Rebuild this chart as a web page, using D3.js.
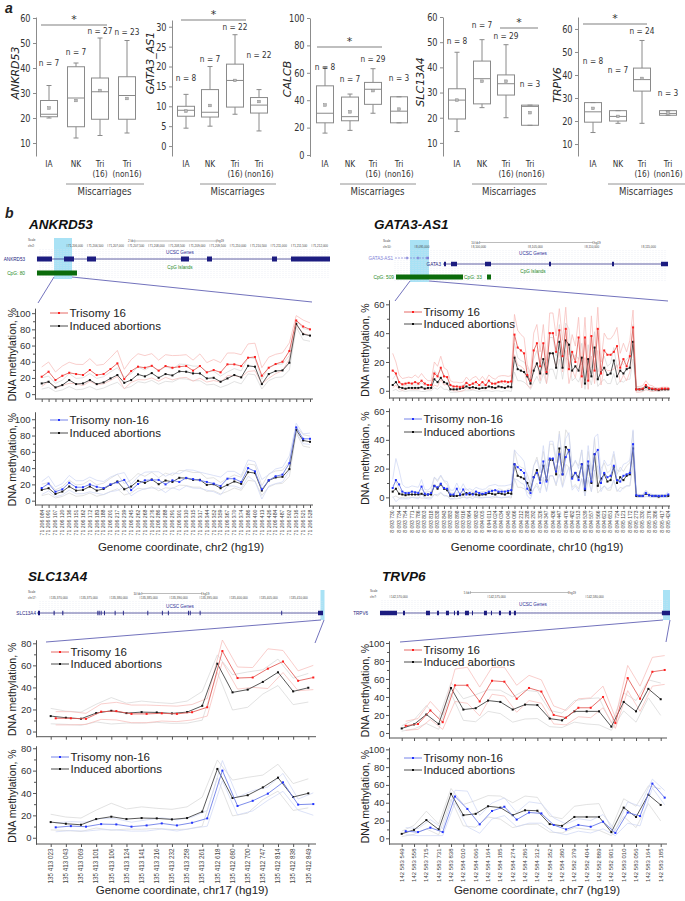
<!DOCTYPE html>
<html><head><meta charset="utf-8">
<script src="https://cdn.jsdelivr.net/npm/d3@7"></script>
<style>body{margin:0;background:#fff}svg{display:block}</style>
</head><body>
<svg id="c" width="685" height="901"></svg>
<script>
// ---------------- PANEL A DATA ----------------
const groupNames = ["IA", "NK", "Tri", "Tri"];
const groupSub = ["", "", "(16)", "(non16)"];
// [whiskerLow, q1, median, q3, whiskerHigh, mean]
const boxANKRD53 = [[20,20.5,21.5,27,33,24],[12,16.5,28,40.5,42,27],[13,19.5,30.5,36,52,31],[14,19.5,29,36.5,51,27.8]];
const boxGATA3 = [[4.5,7.5,9,10,13,8.8],[5,7.3,8.5,14.2,20,10.2],[8,9.8,16.5,20.6,28,16.5],[3.8,8.3,10.3,12.2,14.2,11.2]];
const boxCALCB = [[16,23.5,30.5,50.5,64,36.5],[18,25,28,42.3,44.5,31.5],[30.5,37,48,53,63,47],[23.5,23.5,32,42.5,42.5,33.5]];
const boxSLC = [[14.5,19.5,27,31.5,46,27],[24,25.5,35.5,42.5,51,34.5],[20,29,33.5,37,49,34.5],[17,17,24.5,25,25,22]];
const boxTRPV = [[15,19.5,24,28,28,25.5],[19,20,22,24.5,24.5,22],[19,33,38,43,55,38.5],[22.5,22.5,23.3,24.5,24.5,23.5]];
const nANKRD53 = [7,7,27,23];
const nGATA3 = [8,7,22,22];
const nCALCB = [8,7,29,3];
const nSLC = [8,7,29,3];
const nTRPV = [8,7,24,3];
const ticksANKRD53 = [10,20,30,40,50,60];
const ticksGATA3 = [0,5,10,15,20,25,30];
const ticksCALCB = [0,20,40,60,80,100];
const ticksSLC = [10,20,30,40,50,60];
const ticksTRPV = [10,20,30,40,50,60];

// ---------------- PANEL B DATA ----------------
const ANK_labels = ["71 206 084","71 206 091","71 206 107","71 206 120","71 206 136","71 206 151","71 206 162","71 206 172","71 206 183","71 206 188","71 206 201","71 206 217","71 206 239","71 206 245","71 206 262","71 206 268","71 206 276","71 206 286","71 206 288","71 206 291","71 206 301","71 206 310","71 206 315","71 206 317","71 206 344","71 206 352","71 206 359","71 206 367","71 206 370","71 206 374","71 206 386","71 206 400","71 206 413","71 206 426","71 206 484","71 206 487","71 206 502","71 206 516","71 206 521","71 206 528"];
const ANK_IA = [13.2,15.3,8.3,11.2,17.4,12.4,13.2,17.4,12.4,14.5,19.4,23.6,14,17.4,24.4,21.9,26,20.2,24.8,23.1,28.1,27.7,25.6,25.6,19.4,20.2,15.3,19.4,23.6,20.7,35,33.9,12.4,24.8,28.5,29.3,38.8,86.8,74,72.3];
const ANK_T16 = [21.5,27.7,17.4,22.7,26.4,24.8,23.6,29.8,23.6,24.8,31,38,18.6,28.5,33.9,32.6,35,29,34.7,32.6,33.9,34.7,29,34.7,26.9,29.8,26.9,36.8,36.8,34.7,45,45.9,22.7,32.6,37.2,40,53.3,91,83.5,80];
const ANK_N16 = [15.5,21,11,14,22,16.5,16.5,20,17,15.5,20,22.5,25.5,13,20.5,25,25.5,25.5,20,25,23,28,26.5,25,23,21,18,27,27,23,40,36,14,25,30,32,46,90,76,76];
const ANK_IA_SD = [7,7,5,6,8,7,7,8,7,7,8,9,7,8,9,8,9,8,9,8,9,9,9,9,8,8,7,8,8,8,10,10,6,8,8,8,9,4,7,7];
const ANK_T16_SD = [12,12,10,12,13,12,13,14,12,12,14,16,12,14,16,15,15,13,14,15,14,14,13,15,12,13,12,14,14,14,17,17,10,13,12,11,10,6,8,8];
const ANK_N16_SD = [8,9,6,7,9,8,8,9,8,8,9,10,9,7,9,10,10,10,10,9,10,10,11,10,10,10,11,9,9,8,10,12,12,7,9,9,9,5,6,7];

const GATA_labels = ["8 093 730","8 093 734","8 093 754","8 093 771","8 093 786","8 093 803","8 093 818","8 093 838","8 093 843","8 093 883","8 093 898","8 093 916","8 093 964","8 093 983","8 094 005","8 094 011","8 094 024","8 094 034","8 094 045","8 094 066","8 094 212","8 094 288","8 094 292","8 094 326","8 094 347","8 094 436","8 094 447","8 094 476","8 094 482","8 094 513","8 094 539","8 094 557","8 094 566","8 094 621","8 094 651","8 094 724","8 095 121","8 095 172","8 095 273","8 095 330","8 095 376","8 095 386","8 095 417","8 095 424"];
const GATA_T16 = [14,12,6,4.5,5,5.5,5,6,5,7, 5,4,4,12,10,16,10,9.5,4,3, 3,2.5,3,5.5,4,5,6,4,6,4, 7,5,5,6,6.5,6.5,6,6.5,
  39,30,28,26,11,7,28,33,17,33, 13,40,40,27,42,24,43,15,27,20, 37,10,37,7,38,14,43,12,28,25, 25,27,31,16,22,17,24,44,
  1,1,1.5,4,2,1.5,1,1,1.5,1.5,1.5];
const GATA_IA = [4,6,2.5,2,1.5,2,2,2,2,2.5, 1.5,2,2,8,6,9,6,5,1,1, 1,1.5,2,3,2,2.5,2,1.5,2,2, 3,2.5,2,3,2.5,2,3,2.5,
  23,15,14,13,10,5,14,19,12,22, 12,26,26,16,34,16,35,32,14,17, 14,23,5,22,10,30,8,13,16,11, 12,21,10,14,12,15,16,34,
  1,1,1,2.5,1.5,1,1,0.5,1,1,1];
const GATA_N16 = [6.5,12,9,4,3,3,4,3.5,3,7.5, 2.5,2,3,8,7,9.5,6.5,6,2,2, 6,2,5.5,2,3,2,4,3,2.5,3, 4,4.5,5,4,4,4,4.5,5,
  23,21,19,17,6,3,14,17,10,25, 11,27,27,18,30,16,28,33,13,17, 12,23,6,25,11,30,33,10,17,14, 15,22,12,11,15,16,17,37,
  1.5,1,1,3,1.5,1,1,1,1,1,2];
const GATA_T16_SD = [12,8,5,4,4,4,4,5,4,5, 4,3,3,8,7,8,6,5,3,3, 3,3,3,4,3,4,4,3,4,3, 4,4,3,4,4,4,4,4,
  14,12,11,11,7,5,12,13,10,13, 8,14,14,11,15,11,15,10,12,11, 14,8,14,6,14,9,15,8,12,11, 11,12,13,10,11,10,11,12,
  2,2,2,3,2,2,1,1,1,1,1];
const GATA_IA_SD = [4,5,3,2,2,2,2,2,2,3, 2,2,2,6,5,6,5,4,2,2, 2,2,2,3,2,2,2,2,2,2, 3,3,2,3,3,2,3,3,
  10,8,7,7,6,4,8,9,7,10, 7,11,11,8,12,8,12,11,7,8, 8,10,4,10,6,11,5,7,8,6, 7,9,6,7,6,7,8,12,
  1,1,1,2,1,1,1,1,1,1,1];
const GATA_N16_SD = [6,15,10,5,4,4,4,4,4,5, 3,3,4,6,5,6,5,5,3,3, 4,3,4,3,3,3,3,3,3,3, 4,4,4,4,4,4,4,4,
  10,9,9,8,5,4,8,9,7,11, 7,12,12,9,14,9,13,12,8,9, 8,10,5,11,7,12,11,6,9,8, 8,10,7,7,8,8,9,10,
  1,1,1,2,1,1,1,1,1,1,2];

const SLC_labels = ["135 413 023","135 413 043","135 413 069","135 413 101","135 413 106","135 413 124","135 413 141","135 413 216","135 413 232","135 413 258","135 413 261","135 412 618","135 412 680","135 412 700","135 412 747","135 412 814","135 412 838","135 412 849"];
const SLC_IA = [14,12.5,11.6,16.7,18.8,16.7,17.6,17.3,16.4,17.6,23.3,61.5,35.5,38,45,53.7,36.4,39.7];
const SLC_T16 = [12,12,11.5,18,18.5,16,16,16.5,16,17.5,22,73,48.5,49,57,63.5,46,49];
const SLC_N16 = [9.3,10.4,9.9,12.2,11.9,9.9,11,12.8,11,13.4,17.3,60,28.4,33,39.4,49.5,29.6,30.1];
const SLC_IA_SD = [7,6,6,8,12,9,10,9,9,10,13,8,16,16,11,12,12,13];
const SLC_T16_SD = [6,6,5,7,8,8,8,7,7,7,8,10,10,9,18,10,9,11];
const SLC_N16_SD = [4,4,4,5,5,4,5,5,5,5,7,9,8,9,6,8,5,10];

const TRPV_labels = ["142 583 549","142 583 558","142 583 715","142 583 731","142 583 838","142 584 010","142 584 066","142 584 164","142 584 185","142 584 274","142 584 286","142 584 312","142 584 352","142 584 380","142 582 379","142 582 404","142 582 889","142 582 901","142 583 010","142 583 056","142 583 164","142 583 185"];
const TRPV_IA = [5,9.5,20.5,10,50,26,27.5,36,34.5,26,31.5,31,16,14,24,24,24,7,34.5,24,49,37.5];
const TRPV_T16 = [8,10,25,12,53,53,35,58,57,38,50,46,20,17,28,28,40,11,61,38,68,70];
const TRPV_N16 = [8,7,12,7,47,33,15.7,30.7,35.5,21,29,28,15,10,15,13,18.7,6,29,25,61.5,45.7];
const TRPV_IA_SD = [3,5,10,6,6,12,15,12,13,14,16,15,9,8,12,14,15,4,10,12,10,18];
const TRPV_T16_SD = [5,6,10,8,18,20,16,15,16,15,14,13,10,8,10,11,12,6,14,14,16,16];
const TRPV_N16_SD = [4,4,9,4,7,20,10,9,10,8,12,11,8,6,7,7,8,3,12,11,5,8];

// ---------------- GENOME BROWSER DATA (hg19 bp) ----------------
const ANK_coords = [71206000,71206500,71207000,71207500,71208000,71208500,71209000,71209500,71210000,71210500,71211000,71211500,71212000];
const ANK_coordText = ["71,206,000","71,206,500","71,207,000","71,207,500","71,208,000","71,208,500","71,209,000","71,209,500","71,210,000","71,210,500","71,211,000","71,211,500","71,212,000"];
const ANK_exons = [[71205265,71205633],[71205927,71206172],[71206490,71206711],[71208793,71208989],[71209430,71209553],[71211023,71211145],[71211488,71212444]];
const ANK_cpg = [[71205265,71206245]];
const GATA_coords = [8095000,8100000,8105000,8110000,8115000];
const GATA_coordText = ["8,095,000","8,100,000","8,105,000","8,110,000","8,115,000"];
const GATA_AS1_exons = [[8094230,8094360],[8095200,8095330],[8096000,8096235]];
const GATA3_exons = [[8097558,8097734],[8098175,8098704],[8101174,8101703],[8106819,8106995],[8112375,8112552],[8116697,8117315]];
const GATA_cpg = [[8093324,8099234],[8101350,8101703]];
const SLC_coords = [135370000,135375000,135380000,135385000,135390000,135395000,135400000,135405000,135410000];
const SLC_coordText = ["135,370,000","135,375,000","135,380,000","135,385,000","135,390,000","135,395,000","135,400,000","135,405,000","135,410,000"];
const SLC_exons = [[135368000,135368333],[135370600,135370770],[135372050,135372220],[135377900,135378050],[135378120,135378270],[135378450,135378600],[135379000,135379150],[135380780,135380930],[135382150,135382300],[135386230,135386380],[135388650,135388800],[135389650,135389800],[135393000,135393150],[135393300,135393450],[135394950,135395100],[135408550,135408700],[135414676,135415509]];
const TRPV_coords = [142570000,142575000,142580000];
const TRPV_coordText = ["142,570,000","142,575,000","142,580,000"];
const TRPV_exons = [[142569490,142570357],[142570663,142570765],[142571836,142572040],[142572397,142572499],[142572856,142573009],[142573264,142573315],[142573417,142573519],[142573825,142574029],[142574182,142574233],[142574794,142574947],[142575151,142575202],[142575559,142575661],[142576069,142576171],[142576324,142576426],[142583872,142584286]];

// ---------------- DRAWING ----------------
const svg = d3.select("#c");
const FA = "'DejaVu Sans', Verdana, sans-serif";
const FB = "'Liberation Sans', Arial, sans-serif";

function txt(g, x, y, s, o = {}) {
  const t = g.append("text").attr("x", x).attr("y", y).text(s)
    .attr("font-family", o.ff || FB).attr("font-size", o.fs || 10)
    .attr("fill", o.fill || "#222").attr("text-anchor", o.anchor || "start");
  if (o.fw) t.attr("font-weight", o.fw);
  if (o.fst) t.attr("font-style", o.fst);
  if (o.rot) t.attr("transform", `rotate(${o.rot},${x},${y})`);
  else if (o.sx) t.attr("transform", `translate(${x},${y}) scale(${o.sx},1) translate(${-x},${-y})`);
  return t;
}

// ---- Panel a ----
txt(svg, 5, 13, "a", {ff: FB, fs: 14, fw: "bold", fst: "italic"});
const layoutA = [
  {box: boxANKRD53, n: nANKRD53, ticks: ticksANKRD53, name: "ANKRD53", ax: 36, cats: [49,76,100,127], dom: [4.8,60.4], rng: [156,17], nY: [66,55,34,35], sig: [41,107,25], lx: 19, ly: 73},
  {box: boxGATA3, n: nGATA3, ticks: ticksGATA3, name: "GATA3_AS1", ax: 172, cats: [186,210,235,259], dom: [-2.5,31.7], rng: [156,20], nY: [81,62,30,58], sig: [181,246,20], lx: 154, ly: 63},
  {box: boxCALCB, n: nCALCB, ticks: ticksCALCB, name: "CALCB", ax: 310, cats: [325,350,373,399], dom: [-1,100], rng: [156.4,18], nY: [70,82,62,81], sig: [317,382,47], lx: 291, ly: 79},
  {box: boxSLC, n: nSLC, ticks: ticksSLC, name: "SLC13A4", ax: 443, cats: [457,482,506,530], dom: [4.8,60], rng: [156,17], nY: [44,28,39,87], sig: [500,538,28], lx: 424, ly: 82},
  {box: boxTRPV, n: nTRPV, ticks: ticksTRPV, name: "TRPV6", ax: 578, cats: [593,618,642,668], dom: [4.8,65.2], rng: [156,17], nY: [64,73,34,96], sig: [583,647,24], lx: 561, ly: 85}
];
const SXA = 0.78;
layoutA.forEach(L => {
  const g = svg.append("g");
  const y = d3.scaleLinear().domain(L.dom).range(L.rng);
  const ax = g.append("g").attr("transform", `translate(${L.ax},0)`)
    .call(d3.axisLeft(y).tickValues(L.ticks).tickSize(3).tickSizeOuter(0));
  ax.attr("color", "#8c8c8c").attr("font-family", FA).attr("font-size", 10.5);
  ax.selectAll("text").attr("fill", "#333").attr("transform", `scale(${SXA},1)`).attr("x", -7);
  txt(g, L.lx, L.ly, L.name, {ff: FA, fs: 11, fst: "italic", anchor: "middle", rot: -90, fill: "#222"});
  const bw = 17;
  L.box.forEach((b, i) => {
    const cx = L.cats[i];
    const [wl, q1, md, q3, wh, mn] = b;
    const st = "#8a8a8a";
    g.append("line").attr("x1", cx).attr("x2", cx).attr("y1", y(wh)).attr("y2", y(q3)).attr("stroke", st);
    g.append("line").attr("x1", cx).attr("x2", cx).attr("y1", y(q1)).attr("y2", y(wl)).attr("stroke", st);
    g.append("line").attr("x1", cx - 2.5).attr("x2", cx + 2.5).attr("y1", y(wh)).attr("y2", y(wh)).attr("stroke", st);
    g.append("line").attr("x1", cx - 2.5).attr("x2", cx + 2.5).attr("y1", y(wl)).attr("y2", y(wl)).attr("stroke", st);
    g.append("rect").attr("x", cx - bw / 2).attr("width", bw).attr("y", y(q3)).attr("height", Math.max(0.5, y(q1) - y(q3)))
      .attr("fill", "none").attr("stroke", st);
    g.append("line").attr("x1", cx - bw / 2).attr("x2", cx + bw / 2).attr("y1", y(md)).attr("y2", y(md)).attr("stroke", st);
    g.append("rect").attr("x", cx - 1.3).attr("y", y(mn) - 1.3).attr("width", 2.6).attr("height", 2.6)
      .attr("fill", "#bbb").attr("stroke", "#888").attr("stroke-width", 0.5);
    txt(g, cx, L.nY[i], "n = " + L.n[i], {ff: FA, fs: 9.5, anchor: "middle", sx: SXA, fill: "#333"});
    txt(g, cx, 167.5, groupNames[i], {ff: FA, fs: 9.5, anchor: "middle", sx: SXA, fill: "#333"});
    if (groupSub[i]) txt(g, cx, 177.5, groupSub[i], {ff: FA, fs: 9.5, anchor: "middle", sx: SXA, fill: "#333"});
  });
  g.append("line").attr("x1", L.cats[1] - 10).attr("x2", L.cats[3] + 17).attr("y1", 184).attr("y2", 184)
    .attr("stroke", "#777").attr("stroke-width", 0.8);
  txt(g, (L.cats[1] + L.cats[3]) / 2 + 3, 195, "Miscarriages", {ff: FA, fs: 11, anchor: "middle", sx: SXA, fill: "#333"});
  g.append("line").attr("x1", L.sig[0]).attr("x2", L.sig[1]).attr("y1", L.sig[2]).attr("y2", L.sig[2])
    .attr("stroke", "#aaa").attr("stroke-width", 1.3);
  txt(g, (L.sig[0] + L.sig[1]) / 2, L.sig[2] - 2.5, "*", {ff: FA, fs: 11, anchor: "middle", fill: "#333"});
});

// ---- Panel b ----
txt(svg, 5, 218, "b", {ff: FB, fs: 14, fw: "bold", fst: "italic"});
txt(svg, 29, 229, "ANKRD53", {fs: 13.5, fw: "bold", fst: "italic", fill: "#111"});
txt(svg, 374, 229, "GATA3-AS1", {fs: 13.5, fw: "bold", fst: "italic", fill: "#111"});
txt(svg, 28, 581, "SLC13A4", {fs: 13.5, fw: "bold", fst: "italic", fill: "#111"});
txt(svg, 382, 581, "TRVP6", {fs: 13.5, fw: "bold", fst: "italic", fill: "#111"});

function browser(B) {
  const g = svg.append("g");
  const x = d3.scaleLinear().domain(B.dom).range([B.x0, B.x1]);
  g.append("rect").attr("x", B.hlx[0]).attr("width", B.hlx[1] - B.hlx[0]).attr("y", B.y0).attr("height", B.y1 - B.y0)
    .attr("fill", "#a9e2f5");
  g.selectAll("line.guide").data(d3.range(B.x0 + 12, B.x1, 3)).join("line")
    .attr("x1", d => d).attr("x2", d => d).attr("y1", B.coordY + 2).attr("y2", B.y1)
    .attr("stroke", "#dde1ee").attr("stroke-width", 0.5).attr("stroke-dasharray", "1,1");
  txt(g, B.x0, B.scaleY - 1.5, "Scale", {fs: 3, fill: "#444"});
  txt(g, B.x0, B.coordY, B.chr, {fs: 3, fill: "#444"});
  const sb = B.scaleBar;
  g.append("line").attr("x1", x(sb[0])).attr("x2", x(sb[1])).attr("y1", B.scaleY - 1).attr("y2", B.scaleY - 1).attr("stroke", "#555").attr("stroke-width", 0.4);
  [sb[0], sb[1]].forEach(v => g.append("line").attr("x1", x(v)).attr("x2", x(v)).attr("y1", B.scaleY - 2.5).attr("y2", B.scaleY + 0.5).attr("stroke", "#555").attr("stroke-width", 0.4));
  txt(g, x(sb[0]) - 1, B.scaleY, B.scaleText, {fs: 3, fill: "#444", anchor: "end"});
  txt(g, x(sb[1]) + 1, B.scaleY, "hg19", {fs: 3, fill: "#444"});
  B.coords.forEach((c, i) => {
    g.append("line").attr("x1", x(c)).attr("x2", x(c)).attr("y1", B.coordY - 3).attr("y2", B.coordY).attr("stroke", "#555").attr("stroke-width", 0.3);
    txt(g, x(c) + 1, B.coordY, B.coordText[i], {fs: 3, fill: "#444"});
  });
  txt(g, B.ucscX, B.ucscY, "UCSC Genes", {fs: 4.6, fill: "#2c2c96", anchor: "middle"});
  B.genes.forEach(G => {
    g.append("line").attr("x1", x(G.span[0])).attr("x2", x(G.span[1])).attr("y1", G.y).attr("y2", G.y)
      .attr("stroke", G.color).attr("stroke-width", 0.7).attr("stroke-dasharray", G.dash || null);
    g.selectAll(null).data(G.exons).join("rect")
      .attr("x", d => x(d[0])).attr("width", d => Math.max(0.9, x(d[1]) - x(d[0])))
      .attr("y", G.y - G.h / 2).attr("height", G.h).attr("fill", G.color);
    txt(g, G.lx, G.y + 1.6, G.name, {fs: 4.6, fill: G.color, anchor: G.la || "end"});
  });
  if (B.cpg) {
    txt(g, B.ucscX, B.cpgTitleY, "CpG Islands", {fs: 4.6, fill: "#1e8a1e", anchor: "middle"});
    g.selectAll(null).data(B.cpg).join("rect")
      .attr("x", d => x(d[0])).attr("width", d => x(d[1]) - x(d[0]))
      .attr("y", B.cpgY - 2.5).attr("height", 5).attr("fill", "#0b6b0b");
    B.cpgLabels.forEach(l => txt(g, l[0], B.cpgY + 1.7, l[1], {fs: 4.8, fill: "#1e8a1e", anchor: l[2]}));
  }
  B.zoom.forEach(z => g.append("line").attr("x1", z[0]).attr("y1", z[1]).attr("x2", z[2]).attr("y2", z[3])
    .attr("stroke", "#6262b4").attr("stroke-width", 0.9));
}

browser({x0: 28, x1: 330, dom: [71205045, 71212444], y0: 238, y1: 279, scaleY: 242, coordY: 247, chr: "chr2:",
  hlx: [54, 72], scaleBar: [71207660, 71209660], scaleText: "2 kb", coords: ANK_coords, coordText: ANK_coordText,
  ucscX: 180, ucscY: 254,
  genes: [{name: "ANKRD53", span: [71205265, 71212444], exons: ANK_exons, y: 259, h: 5, color: "#1c1c80", lx: 25}],
  cpg: ANK_cpg, cpgTitleY: 268.5, cpgY: 273, cpgLabels: [[25, "CpG: 80", "end"]],
  zoom: [[54, 277, 38, 303], [72, 277, 312, 302]]});

browser({x0: 383, x1: 668, dom: [8092178, 8117315], y0: 240, y1: 282, scaleY: 243.5, coordY: 248, chr: "chr10:",
  hlx: [410, 429], scaleBar: [8100700, 8110700], scaleText: "10 kb", coords: GATA_coords, coordText: GATA_coordText,
  ucscX: 533, ucscY: 255,
  genes: [{name: "GATA3-AS1", span: [8093236, 8096235], exons: GATA_AS1_exons, y: 258, h: 2.5, color: "#7e7ed6", lx: 393, dash: "2,1"},
          {name: "GATA3", span: [8097470, 8117315], exons: GATA3_exons, y: 264, h: 4.5, color: "#1c1c80", lx: 441}],
  cpg: GATA_cpg, cpgTitleY: 272.5, cpgY: 277, cpgLabels: [[394, "CpG: 509", "end"], [464, "CpG: 33", "start"]],
  zoom: [[410, 281, 395, 301], [429, 281, 668, 301]]});

browser({x0: 28, x1: 325, dom: [135366333, 135415842], y0: 590, y1: 620, scaleY: 594.5, coordY: 599, chr: "chr17:",
  hlx: [320.5, 324.5], scaleBar: [135385300, 135395300], scaleText: "10 kb", coords: SLC_coords, coordText: SLC_coordText,
  ucscX: 180, ucscY: 608,
  genes: [{name: "SLC13A4", span: [135367833, 135415509], exons: SLC_exons, y: 613, h: 4.5, color: "#1c1c80", lx: 36}],
  cpg: null,
  zoom: [[321, 620, 46, 642], [324, 620, 315, 643]]});

browser({x0: 370, x1: 670, dom: [142568980, 142584286], y0: 590, y1: 620, scaleY: 593.5, coordY: 598, chr: "chr7:",
  hlx: [663, 670], scaleBar: [142574100, 142579100], scaleText: "5 kb", coords: TRPV_coords, coordText: TRPV_coordText,
  ucscX: 533, ucscY: 606,
  genes: [{name: "TRPV6", span: [142569490, 142584286], exons: TRPV_exons, y: 613, h: 4.5, color: "#1c1c80", lx: 368}],
  cpg: null,
  zoom: [[663, 620, 400, 642], [670, 620, 666, 642]]});

const COLORS = {
  red: {line: "#e35a55", pt: "#ff1f1f", sd: "#f6b9b6"},
  blue: {line: "#6677e6", pt: "#2233ff", sd: "#cdd6f3"},
  black: {line: "#3a3a3a", pt: "#111", sd: "#d6d6d6"}
};

function linePlot(c) {
  const g = svg.append("g");
  const y = d3.scaleLinear().domain(c.dom).range([c.yB, c.yT]);
  const n = c.ia.length;
  const x = d3.scaleLinear().domain([0, n - 1]).range([c.p0, c.p1]);
  const off = c.off || 0;
  const ya1 = g.append("g").attr("transform", `translate(${c.ax},0)`)
    .call(d3.axisLeft(y).tickValues(c.minor).tickSize(2).tickFormat("").tickSizeOuter(0));
  ya1.attr("color", "#555");
  const ya = g.append("g").attr("transform", `translate(${c.ax},0)`)
    .call(d3.axisLeft(y).tickValues(c.major).tickSize(3).tickSizeOuter(0));
  ya.attr("color", "#555").attr("font-family", FB).attr("font-size", 9.5);
  ya.selectAll("text").attr("fill", "#333").attr("x", -4.5);
  const step = c.tickStep || 1;
  const tIdx = d3.range(0, n, step);
  const xa = g.append("g").attr("transform", `translate(0,${c.yB})`)
    .call(d3.axisBottom(x).tickValues(tIdx).tickSize(3).tickFormat("").tickSizeOuter(0));
  xa.attr("color", "#555");
  xa.select(".domain").remove();
  g.append("line").attr("x1", c.ax).attr("x2", c.xEnd).attr("y1", c.yB).attr("y2", c.yB).attr("stroke", "#555");
  if (c.labels) {
    c.labels.forEach((lab, k) => {
      const xx = x(k * step) + c.labelFs * 0.35;
      txt(g, xx, c.yB + 4.5, lab, {fs: c.labelFs, fill: "#444", anchor: "end", rot: -90});
    });
    txt(g, c.xTitleX, c.xTitleY, c.xTitle, {fs: 11.5, anchor: "middle", fill: "#222"});
  }
  txt(g, c.ylx, (c.yT + c.yB) / 2 + 1, "DNA methylation, %", {fs: 10.5, anchor: "middle", rot: -90, fill: "#222"});
  const col = COLORS[c.color], blk = COLORS.black;
  const line = (dx) => d3.line().x((d, i) => x(i) + dx).y(d => y(d));
  const sdLines = [[c.ia, c.iaSd, blk.sd, 0], [c.col, c.colSd, col.sd, off]];
  sdLines.forEach(([m, s, clr, dx]) => {
    g.append("path").attr("d", line(dx)(m.map((v, i) => v + s[i]))).attr("fill", "none").attr("stroke", clr).attr("stroke-width", 0.7);
    g.append("path").attr("d", line(dx)(m.map((v, i) => v - s[i]))).attr("fill", "none").attr("stroke", clr).attr("stroke-width", 0.7);
  });
  const series = [[c.ia, blk, 0], [c.col, col, off]];
  series.forEach(([m, clr, dx]) => {
    g.append("path").attr("d", line(dx)(m)).attr("fill", "none").attr("stroke", clr.line).attr("stroke-width", 0.85);
    g.selectAll(null).data(m).join("rect")
      .attr("x", (d, i) => x(i) + dx - 1).attr("y", d => y(d) - 1).attr("width", 2).attr("height", 2).attr("fill", clr.pt);
  });
  const lx0 = c.ax + 15, lx1 = c.ax + 33;
  [[c.legend, col], ["Induced abortions", blk]].forEach(([name, clr], k) => {
    const ly = c.ly[k];
    g.append("line").attr("x1", lx0).attr("x2", lx1).attr("y1", ly).attr("y2", ly).attr("stroke", clr.line).attr("stroke-width", 0.9);
    g.append("rect").attr("x", (lx0 + lx1) / 2 - 1).attr("y", ly - 1).attr("width", 2).attr("height", 2).attr("fill", clr.pt);
    txt(g, lx1 + 1.5, ly + 4, name, {fs: 11.5, fill: "#222"});
  });
}

const M100 = [0, 20, 40, 60, 80, 100], m100 = [10, 30, 50, 70, 90];
const M60 = [0, 20, 40, 60], m60 = [10, 30, 50];
const M80 = [0, 20, 40, 60, 80], m80 = [10, 30, 50, 70];

linePlot({ax: 35, xEnd: 313, p0: 41.7, p1: 310, yT: 308.3, yB: 399, dom: [-6, 106], major: M100, minor: m100,
  ia: ANK_IA, iaSd: ANK_IA_SD, col: ANK_T16, colSd: ANK_T16_SD, color: "red", legend: "Trisomy 16", ly: [313, 326], ylx: 16});
linePlot({ax: 35, xEnd: 313, p0: 41.7, p1: 310, yT: 412, yB: 505, dom: [-5.3, 108.9], major: M100, minor: m100,
  ia: ANK_IA, iaSd: ANK_IA_SD, col: ANK_N16, colSd: ANK_N16_SD, color: "blue", legend: "Trisomy non-16", ly: [420, 433], ylx: 16,
  labels: ANK_labels, labelFs: 5.2, xTitle: "Genome coordinate, chr2 (hg19)", xTitleX: 181, xTitleY: 551});
linePlot({ax: 389, xEnd: 670, p0: 392.7, p1: 668.3, yT: 300, yB: 398, dom: [-5, 63], major: M60, minor: m60, tickStep: 2,
  ia: GATA_IA, iaSd: GATA_IA_SD, col: GATA_T16, colSd: GATA_T16_SD, color: "red", legend: "Trisomy 16", ly: [312, 324], ylx: 369});
linePlot({ax: 389, xEnd: 670, p0: 392.7, p1: 668.3, yT: 408.2, yB: 506, dom: [-6, 62], major: M60, minor: m60, tickStep: 2,
  ia: GATA_IA, iaSd: GATA_IA_SD, col: GATA_N16, colSd: GATA_N16_SD, color: "blue", legend: "Trisomy non-16", ly: [419, 432], ylx: 369,
  labels: GATA_labels, labelFs: 5, xTitle: "Genome coordinate, chr10 (hg19)", xTitleX: 537, xTitleY: 551});
linePlot({ax: 36, xEnd: 316, p0: 50.7, p1: 308.3, off: 5, yT: 640, yB: 736.7, dom: [-4.7, 83], major: M80, minor: m80,
  ia: SLC_IA, iaSd: SLC_IA_SD, col: SLC_T16, colSd: SLC_T16_SD, color: "red", legend: "Trisomy 16", ly: [652, 664], ylx: 16});
linePlot({ax: 36, xEnd: 316, p0: 50.7, p1: 308.3, off: 5, yT: 746, yB: 844, dom: [-5.6, 82], major: M80, minor: m80,
  ia: SLC_IA, iaSd: SLC_IA_SD, col: SLC_N16, colSd: SLC_N16_SD, color: "blue", legend: "Trisomy non-16", ly: [757, 769], ylx: 16,
  labels: SLC_labels, labelFs: 6.3, xTitle: "Genome coordinate, chr17 (hg19)", xTitleX: 182, xTitleY: 894});
linePlot({ax: 389, xEnd: 667, p0: 401.7, p1: 660.7, off: 4, yT: 641, yB: 738, dom: [-5.6, 102.2], major: M100, minor: m100,
  ia: TRPV_IA, iaSd: TRPV_IA_SD, col: TRPV_T16, colSd: TRPV_T16_SD, color: "red", legend: "Trisomy 16", ly: [650, 662], ylx: 369});
linePlot({ax: 389, xEnd: 667, p0: 401.7, p1: 660.7, off: 4, yT: 747.3, yB: 844, dom: [-6.4, 102.3], major: M100, minor: m100,
  ia: TRPV_IA, iaSd: TRPV_IA_SD, col: TRPV_N16, colSd: TRPV_N16_SD, color: "blue", legend: "Trisomy non-16", ly: [758, 770], ylx: 369,
  labels: TRPV_labels, labelFs: 6, xTitle: "Genome coordinate, chr7 (hg19)", xTitleX: 537, xTitleY: 894});
</script>
</body></html>
